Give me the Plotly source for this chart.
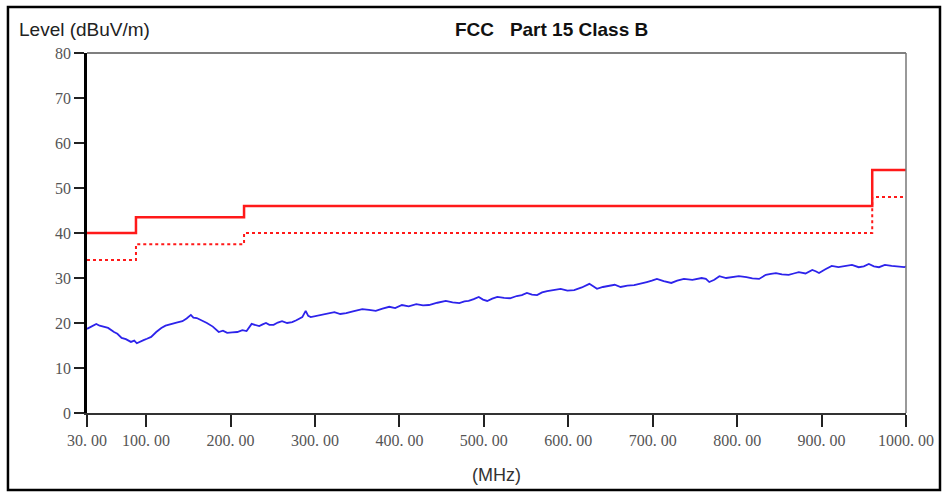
import plotly.graph_objects as go

# Limit lines (FCC Part 15 Class B)
limit_freq = [30, 88, 216, 960, 1000]
limit_qp = [40, 43.5, 46, 54, 54]
limit_margin = [34, 37.5, 40, 48, 48]

trace_freq = [30, 35, 41, 45, 50, 55, 62, 66, 71, 76, 82, 86, 89, 93, 97, 101, 106, 112,
              118, 123, 129, 136, 143, 148, 153, 156, 160, 166, 172, 179, 186, 191, 196,
              202, 208, 214, 219, 225, 230, 234, 238, 242, 246, 251, 256, 261, 267, 273,
              278, 285, 289, 292, 295, 301, 308, 315, 323, 330, 337, 345, 356, 364, 372,
              380, 388, 395, 403, 411, 420, 428, 435, 445, 455, 463, 471, 477, 482, 488,
              494, 499, 504, 510, 516, 524, 531, 539, 545, 551, 557, 563, 569, 575, 583,
              591, 599, 607, 616, 625, 630, 634, 641, 648, 655, 662, 670, 678, 686, 693,
              699, 705, 713, 722, 729, 737, 747, 758, 763, 767, 773, 779, 787, 794, 802,
              811, 818, 826, 830, 834, 840, 846, 853, 861, 867, 873, 881, 889, 893, 897,
              904, 912, 920, 929, 936, 944, 950, 956, 962, 968, 975, 983, 990, 998, 1000]
trace_level = [18.7, 19.2, 19.8, 19.4, 19.1, 18.9, 18.0, 17.6, 16.7, 16.4, 15.8, 16.1, 15.5, 15.9,
               16.2, 16.5, 16.9, 18.0, 18.9, 19.4, 19.8, 20.1, 20.4, 21.0, 21.8, 21.2, 21.1,
               20.6, 20.0, 19.2, 18.0, 18.3, 17.8, 17.9, 18.0, 18.4, 18.2, 19.8, 19.5, 19.3,
               19.7, 20.0, 19.6, 19.6, 20.1, 20.4, 20.0, 20.2, 20.6, 21.3, 22.7, 21.6, 21.3,
               21.5, 21.8, 22.1, 22.4, 22.0, 22.2, 22.6, 23.1, 22.9, 22.7, 23.2, 23.6, 23.3,
               24.0, 23.7, 24.2, 23.9, 24.0, 24.5, 24.9, 24.6, 24.4, 24.8, 24.9, 25.3, 25.8,
               25.2, 24.9, 25.4, 25.8, 25.6, 25.5, 26.0, 26.2, 26.7, 26.3, 26.2, 26.8, 27.1,
               27.3, 27.6, 27.2, 27.3, 27.9, 28.7, 28.1, 27.6, 28.0, 28.2, 28.5, 28.0, 28.3,
               28.4, 28.7, 29.1, 29.4, 29.8, 29.3, 28.9, 29.4, 29.8, 29.6, 30.0, 29.8, 29.1,
               29.6, 30.4, 30.0, 30.2, 30.4, 30.2, 29.9, 29.8, 30.2, 30.7, 30.9, 31.1, 30.8,
               30.7, 31.0, 31.3, 31.0, 31.8, 31.5, 31.1, 31.9, 32.7, 32.4, 32.7, 32.9, 32.4,
               32.6, 33.1, 32.6, 32.4, 32.9, 32.7, 32.5, 32.4, 32.6]

x_tickvals = [30, 100, 200, 300, 400, 500, 600, 700, 800, 900, 1000]
x_ticktext = ["30. 00", "100. 00", "200. 00", "300. 00", "400. 00", "500. 00",
              "600. 00", "700. 00", "800. 00", "900. 00", "1000. 00"]
y_tickvals = [0, 10, 20, 30, 40, 50, 60, 70, 80]

fig = go.Figure()
fig.add_trace(go.Scatter(x=limit_freq, y=limit_qp, mode="lines", line_shape="hv",
                         line=dict(color="rgb(255,25,25)", width=2.5), showlegend=False))
fig.add_trace(go.Scatter(x=limit_freq, y=limit_margin, mode="lines", line_shape="hv",
                         line=dict(color="rgb(255,25,25)", width=2, dash="dot"), showlegend=False))
fig.add_trace(go.Scatter(x=trace_freq, y=trace_level, mode="lines",
                         line=dict(color="rgb(45,35,235)", width=1.8), showlegend=False))

tickfont = dict(family="Liberation Serif, DejaVu Serif, serif", size=16, color="#555555")
fig.update_layout(
    width=945, height=493,
    margin=dict(l=87, r=39, t=53, b=80),
    paper_bgcolor="white", plot_bgcolor="white",
    xaxis=dict(range=[30, 1000], tickvals=x_tickvals, ticktext=x_ticktext,
               showgrid=False, zeroline=False, showline=True, linecolor="#333333",
               linewidth=2, ticks="outside", ticklen=12, tickwidth=2, tickcolor="#222222",
               tickfont=tickfont),
    yaxis=dict(range=[0, 80], tickvals=y_tickvals, showgrid=False, zeroline=False,
               showline=True, linecolor="black", linewidth=2.5, ticks="outside",
               ticklen=10, tickwidth=2, tickcolor="#222222", tickfont=tickfont),
    shapes=[
        dict(type="line", xref="paper", yref="paper", x0=0, x1=1, y0=1, y1=1,
             line=dict(color="#555555", width=1.5)),
        dict(type="line", xref="paper", yref="paper", x0=1, x1=1, y0=0, y1=1,
             line=dict(color="#777777", width=1.5)),
        dict(type="rect", xref="paper", yref="paper", x0=-0.0965, x1=1.0415,
             y0=-0.214, y1=1.128, line=dict(color="black", width=2.5)),
    ],
    annotations=[
        dict(text="Level (dBuV/m)", xref="paper", yref="paper", x=-0.085, y=1.064,
             xanchor="left", yanchor="middle", showarrow=False,
             font=dict(family="Liberation Sans, Arial, sans-serif", size=19, color="#222222")),
        dict(text="<b>FCC   Part 15 Class B</b>", xref="paper", yref="paper", x=0.567, y=1.064,
             xanchor="center", yanchor="middle", showarrow=False,
             font=dict(family="Liberation Sans, Arial, sans-serif", size=19, color="#111111")),
        dict(text="(MHz)", xref="paper", yref="paper", x=0.5, y=-0.172,
             xanchor="center", yanchor="middle", showarrow=False,
             font=dict(family="Liberation Sans, Arial, sans-serif", size=18, color="#333333")),
    ],
)

fig.write_html("out.html")
